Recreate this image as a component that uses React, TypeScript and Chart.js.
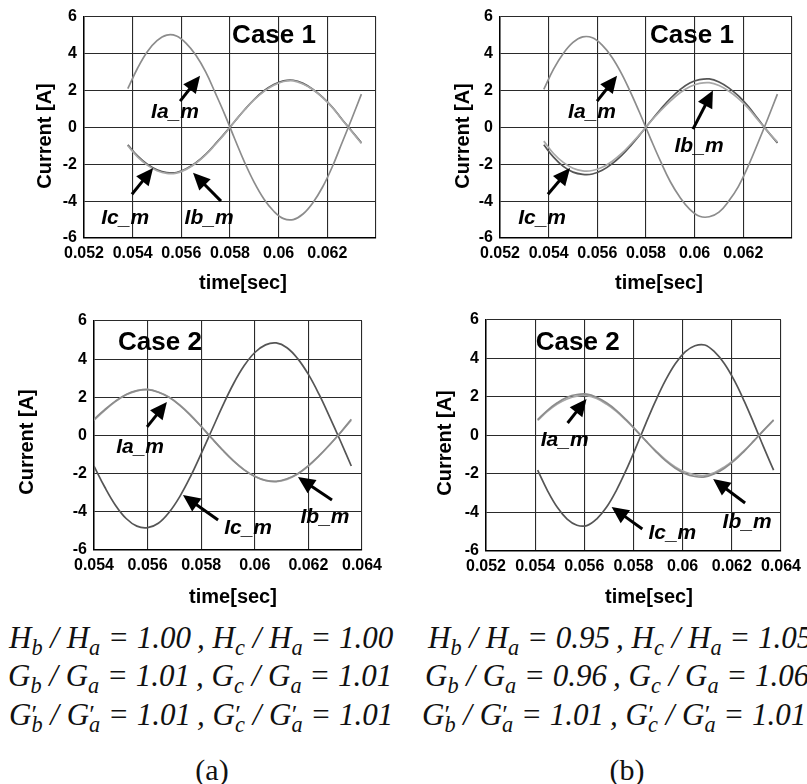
import React, { useEffect, useRef } from "react";
import { Chart, registerables } from "chart.js";

Chart.register(...registerables);

// ---------- data ----------
const timeTop = [
  0.0538, 0.0542, 0.0546, 0.055, 0.0554, 0.0558, 0.0562, 0.0566, 0.057, 0.0574, 0.0578, 0.0582, 0.0586,
  0.059, 0.0594, 0.0598, 0.0602, 0.0606, 0.061, 0.0614, 0.0618, 0.0622, 0.0626, 0.063, 0.0634,
];
const timeBotA = [
  0.054, 0.0544, 0.0548, 0.0552, 0.0556, 0.056, 0.0564, 0.0568, 0.0572, 0.0576, 0.058, 0.0584, 0.0588,
  0.0592, 0.0596, 0.06, 0.0604, 0.0608, 0.0612, 0.0616, 0.062, 0.0624, 0.0628, 0.0632, 0.0636,
];
const timeBotB = [
  0.0541, 0.0545, 0.0549, 0.0553, 0.0557, 0.0561, 0.0565, 0.0569, 0.0573, 0.0577, 0.0581, 0.0585, 0.0589,
  0.0593, 0.0597, 0.0601, 0.0605, 0.0609, 0.0613, 0.0617, 0.0621, 0.0625, 0.0629, 0.0633, 0.0637,
];

// Case 1, (a)
const ia1a = [2.1, 3.2, 4.1, 4.7, 5.0, 4.95, 4.55, 3.9, 3.0, 1.85, 0.65, -0.65, -1.9, -3.0, -3.9, -4.55, -4.95, -5.0, -4.7, -4.1, -3.25, -2.15, -0.85, 0.45, 1.8];
const ib1a = [-1.0, -1.6, -2.05, -2.35, -2.5, -2.48, -2.28, -1.95, -1.5, -0.93, -0.33, 0.33, 0.95, 1.5, 1.95, 2.28, 2.48, 2.52, 2.35, 2.05, 1.62, 1.08, 0.42, -0.22, -0.88];
const ic1a = [-0.95, -1.55, -2.0, -2.3, -2.45, -2.45, -2.25, -1.92, -1.47, -0.9, -0.3, 0.33, 0.95, 1.52, 1.98, 2.32, 2.52, 2.55, 2.38, 2.06, 1.63, 1.1, 0.44, -0.2, -0.84];
// Case 1, (b)
const ia1b = [2.05, 3.15, 4.0, 4.6, 4.9, 4.85, 4.45, 3.8, 2.9, 1.8, 0.6, -0.65, -1.85, -2.95, -3.8, -4.45, -4.82, -4.85, -4.6, -4.0, -3.2, -2.1, -0.85, 0.45, 1.8];
const ib1b = [-0.75, -1.42, -1.9, -2.22, -2.36, -2.34, -2.17, -1.85, -1.42, -0.88, -0.3, 0.32, 0.9, 1.42, 1.87, 2.2, 2.38, 2.42, 2.27, 1.97, 1.56, 1.04, 0.4, -0.22, -0.8];
const ic1b = [-0.95, -1.62, -2.12, -2.43, -2.55, -2.53, -2.33, -1.98, -1.52, -0.95, -0.32, 0.34, 0.98, 1.56, 2.04, 2.4, 2.58, 2.62, 2.46, 2.14, 1.7, 1.14, 0.46, -0.22, -0.85];
// Case 2, (a)
const ia2a = [0.85, 1.35, 1.8, 2.15, 2.35, 2.4, 2.27, 2.0, 1.58, 1.06, 0.47, -0.16, -0.77, -1.33, -1.8, -2.15, -2.35, -2.4, -2.27, -2.0, -1.58, -1.06, -0.47, 0.16, 0.85];
const ib2a = [0.8, 1.32, 1.78, 2.13, 2.34, 2.42, 2.28, 2.01, 1.6, 1.08, 0.48, -0.15, -0.76, -1.32, -1.79, -2.14, -2.36, -2.42, -2.3, -2.02, -1.6, -1.07, -0.48, 0.15, 0.8];
const ic2a = [-1.6, -2.7, -3.65, -4.35, -4.75, -4.83, -4.6, -4.03, -3.2, -2.15, -0.95, 0.3, 1.55, 2.7, 3.65, 4.35, 4.75, 4.85, 4.6, 4.03, 3.2, 2.15, 0.95, -0.3, -1.6];
// Case 2, (b)
const ia2b = [0.82, 1.31, 1.7, 1.99, 2.13, 2.15, 1.99, 1.7, 1.31, 0.82, 0.28, -0.28, -0.82, -1.31, -1.7, -1.99, -2.13, -2.15, -1.99, -1.7, -1.31, -0.82, -0.28, 0.28, 0.82];
const ib2b = [0.78, 1.25, 1.63, 1.9, 2.05, 2.07, 1.92, 1.63, 1.25, 0.78, 0.27, -0.27, -0.79, -1.25, -1.63, -1.9, -2.04, -2.07, -1.92, -1.63, -1.25, -0.79, -0.27, 0.27, 0.78];
const ic2b = [-1.8, -2.86, -3.73, -4.34, -4.66, -4.68, -4.34, -3.73, -2.86, -1.8, -0.62, 0.62, 1.8, 2.86, 3.73, 4.34, 4.66, 4.7, 4.34, 3.73, 2.86, 1.8, 0.62, -0.62, -1.8];

const seriesNames = ["Ia_m", "Ib_m", "Ic_m"];
const yTickLabels = ["-6", "-4", "-2", "0", "2", "4", "6"];
const xTickLabels052NoLast = ["0.052", "0.054", "0.056", "0.058", "0.06", "0.062", ""];
const xTickLabels054 = ["0.054", "0.056", "0.058", "0.06", "0.062", "0.064"];
const xTickLabels052 = ["0.052", "0.054", "0.056", "0.058", "0.06", "0.062", "0.064"];

const ratioSymbols = ["H", "G", "G"];
const ratioPrimes = [false, false, true];
const ratiosA = [["1.00", "1.00"], ["1.01", "1.01"], ["1.01", "1.01"]];
const ratiosB = [["0.95", "1.05"], ["0.96", "1.06"], ["1.01", "1.01"]];
const captions = ["(a)", "(b)"];

// ---------- styling ----------
const SANS = "'Liberation Sans', Arial, Helvetica, sans-serif";
const SERIF = "'Liberation Serif', 'Times New Roman', serif";
const lineColors = ["#8c8c8c", "#a8a8a8", "#555555"];

type Panel = {
  left: number; top: number; w: number; h: number;
  area: { l: number; r: number; t: number; b: number };
  xMin: number; xMax: number; xLabels: string[];
  time: number[]; series: number[][];
  caseText: string; casePos: [number, number];
  labels: [number, number][];
  arrows: [number, number, number, number][];
  xTitlePos: [number, number]; yTitlePos: [number, number];
};

const panels: Panel[] = [
  {
    left: 0, top: 0, w: 400, h: 300, area: { l: 84, r: 376, t: 10, b: 238 },
    xMin: 0.052, xMax: 0.064, xLabels: xTickLabels052NoLast,
    time: timeTop, series: [ia1a, ib1a, ic1a],
    caseText: "Case 1", casePos: [0.05981, 4.95],
    labels: [[0.05574, 0.84], [0.05714, -4.95], [0.05369, -4.95]],
    arrows: [[0.05595, 1.42, 0.05677, 2.79], [0.05763, -4.0, 0.05648, -2.47], [0.05397, -3.63, 0.05484, -2.21]],
    xTitlePos: [243, 283], yTitlePos: [45, 136],
  },
  {
    left: 400, top: 0, w: 407, h: 300, area: { l: 100, r: 392, t: 10, b: 238 },
    xMin: 0.052, xMax: 0.064, xLabels: xTickLabels052NoLast,
    time: timeTop, series: [ia1b, ib1b, ic1b],
    caseText: "Case 1", casePos: [0.05989, 4.95],
    labels: [[0.05578, 0.84], [0.06018, -1.05], [0.05373, -4.95]],
    arrows: [[0.05599, 1.42, 0.05681, 2.79], [0.05993, -0.1, 0.06075, 2.0], [0.05397, -3.63, 0.05488, -2.21]],
    xTitlePos: [259, 283], yTitlePos: [63, 136],
  },
  {
    left: 0, top: 300, w: 400, h: 315, area: { l: 94, r: 362, t: 21, b: 250 },
    xMin: 0.054, xMax: 0.064, xLabels: xTickLabels054,
    time: timeBotA, series: [ia2a, ib2a, ic2a],
    caseText: "Case 2", casePos: [0.05646, 4.85],
    labels: [[0.05572, -0.6], [0.06262, -4.27], [0.05975, -4.85]],
    arrows: [[0.05598, 0.45, 0.05672, 1.76], [0.06288, -3.38, 0.06161, -2.18], [0.05863, -4.43, 0.05732, -3.12]],
    xTitlePos: [233, 297], yTitlePos: [27, 142],
  },
  {
    left: 400, top: 300, w: 407, h: 315, area: { l: 86, r: 382, t: 20, b: 251 },
    xMin: 0.052, xMax: 0.064, xLabels: xTickLabels052,
    time: timeBotB, series: [ia2b, ib2b, ic2b],
    caseText: "Case 2", casePos: [0.05573, 4.81],
    labels: [[0.0552, -0.23], [0.06262, -4.49], [0.05958, -5.1]],
    arrows: [[0.05532, 0.65, 0.05609, 1.9], [0.06254, -3.51, 0.06124, -2.26], [0.05836, -4.86, 0.05711, -3.71]],
    xTitlePos: [249, 297], yTitlePos: [45, 143],
  },
];

// ---------- overlay plugin: case title, series labels, arrows, axis titles ----------
const overlayPlugin = {
  id: "overlay",
  afterDraw(chart: any, _args: any, o: any) {
    if (!o || !o.panel) return;
    const p: Panel = o.panel;
    const { ctx } = chart;
    const xs = chart.scales.x;
    const ys = chart.scales.y;
    const px = (v: number) => xs.getPixelForValue(v);
    const py = (v: number) => ys.getPixelForValue(v);
    ctx.save();
    ctx.fillStyle = "#000";
    ctx.strokeStyle = "#000";
    for (const [x1, y1, x2, y2] of p.arrows) {
      const ax = px(x1), ay = py(y1), bx = px(x2), by = py(y2);
      const ang = Math.atan2(by - ay, bx - ax);
      const hl = 17, hw = 8;
      const c = Math.cos(ang), s = Math.sin(ang);
      ctx.lineWidth = 3;
      ctx.beginPath();
      ctx.moveTo(ax, ay);
      ctx.lineTo(bx - c * hl * 0.8, by - s * hl * 0.8);
      ctx.stroke();
      ctx.beginPath();
      ctx.moveTo(bx, by);
      ctx.lineTo(bx - c * hl + s * hw, by - s * hl - c * hw);
      ctx.lineTo(bx - c * hl - s * hw, by - s * hl + c * hw);
      ctx.closePath();
      ctx.fill();
    }
    ctx.textAlign = "center";
    ctx.textBaseline = "middle";
    ctx.font = `bold 26px ${SANS}`;
    ctx.fillText(p.caseText, px(p.casePos[0]), py(p.casePos[1]));
    ctx.font = `italic bold 21px ${SANS}`;
    p.labels.forEach((l, i) => ctx.fillText(seriesNames[i], px(l[0]), py(l[1])));
    ctx.font = `bold 20px ${SANS}`;
    ctx.fillText("time[sec]", p.xTitlePos[0], p.xTitlePos[1]);
    ctx.translate(p.yTitlePos[0], p.yTitlePos[1]);
    ctx.rotate(-Math.PI / 2);
    ctx.fillText("Current [A]", 0, 0);
    ctx.restore();
  },
};

function ChartPanel({ p }: { p: Panel }) {
  const ref = useRef<HTMLCanvasElement>(null);
  useEffect(() => {
    if (!ref.current) return;
    const tickFont = { family: SANS, weight: "bold" as const, size: 16 };
    const chart = new Chart(ref.current, {
      type: "line",
      data: {
        datasets: p.series.map((vals, si) => ({
          label: seriesNames[si],
          data: p.time.map((t, i) => ({ x: t, y: vals[i] })),
          borderColor: lineColors[si],
          borderWidth: 1.7,
          pointRadius: 0,
          tension: 0.4,
          fill: false,
        })),
      },
      options: {
        animation: false,
        responsive: false,
        devicePixelRatio: 1,
        layout: { padding: { left: 0, top: p.area.t, right: p.w - p.area.r, bottom: 0 } },
        plugins: {
          legend: { display: false },
          tooltip: { enabled: false },
          overlay: { panel: p },
        } as any,
        scales: {
          x: {
            type: "linear",
            min: p.xMin,
            max: p.xMax,
            ticks: {
              stepSize: 0.002,
              autoSkip: false,
              maxRotation: 0,
              minRotation: 0,
              padding: 6,
              color: "#000",
              font: tickFont,
              callback: (_v: any, i: number) => p.xLabels[i] ?? "",
            },
            grid: { color: "#2a2a2a", lineWidth: 1.1, drawTicks: false },
            border: { color: "#000", width: 1.5 },
            afterFit: (s: any) => { s.height = p.h - p.area.b; },
          },
          y: {
            min: -6,
            max: 6,
            ticks: {
              stepSize: 2,
              padding: 7,
              color: "#000",
              font: tickFont,
              callback: (_v: any, i: number) => yTickLabels[i] ?? "",
            },
            grid: { color: "#2a2a2a", lineWidth: 1.1, drawTicks: false },
            border: { color: "#000", width: 1.5 },
            afterFit: (s: any) => { s.width = p.area.l; },
          },
        },
      },
      plugins: [overlayPlugin],
    });
    return () => chart.destroy();
  }, [p]);
  return (
    <canvas
      ref={ref}
      width={p.w}
      height={p.h}
      style={{ position: "absolute", left: p.left, top: p.top, width: p.w, height: p.h }}
    />
  );
}

function Sym({ base, sub, prime }: { base: string; sub: string; prime: boolean }) {
  return (
    <span>
      {base}
      <span style={{ position: "relative", display: "inline-block", fontSize: "0.72em" }}>
        {prime && (
          <span style={{ position: "absolute", left: "-0.05em", top: "-0.12em", fontSize: "1.15em" }}>′</span>
        )}
        <span style={{ position: "relative", top: "0.32em" }}>{sub}</span>
      </span>
    </span>
  );
}

function RatioRow({ idx, vals, left, top }: { idx: number; vals: string[]; left: number; top: number }) {
  const b = ratioSymbols[idx];
  const pr = ratioPrimes[idx];
  return (
    <div
      style={{
        position: "absolute", left, top, whiteSpace: "nowrap",
        fontFamily: SERIF, fontStyle: "italic", fontSize: 31, lineHeight: "31px", color: "#111",
      }}
    >
      <Sym base={b} sub="b" prime={pr} /> / <Sym base={b} sub="a" prime={pr} /> = {vals[0]}
      {"\u2009, "}
      <Sym base={b} sub="c" prime={pr} /> / <Sym base={b} sub="a" prime={pr} /> = {vals[1]}
    </div>
  );
}

export default function App() {
  const rowTops = [622, 660, 699];
  const leftA = [9, 8, 9];
  const leftB = [428, 425, 422];
  return (
    <div
      style={{
        position: "absolute", left: 0, top: 0, width: 807, height: 784,
        overflow: "hidden", background: "#fff",
      }}
    >
      {panels.map((p, i) => (
        <ChartPanel key={i} p={p} />
      ))}
      {rowTops.map((t, i) => (
        <RatioRow key={"a" + i} idx={i} vals={ratiosA[i]} left={leftA[i]} top={t} />
      ))}
      {rowTops.map((t, i) => (
        <RatioRow key={"b" + i} idx={i} vals={ratiosB[i]} left={leftB[i]} top={t} />
      ))}
      {captions.map((c, i) => (
        <div
          key={c}
          style={{
            position: "absolute", left: i === 0 ? 212 : 627, top: 755, transform: "translateX(-50%)",
            fontFamily: SERIF, fontSize: 30, lineHeight: "30px", color: "#111", whiteSpace: "nowrap",
          }}
        >
          {c}
        </div>
      ))}
    </div>
  );
}
